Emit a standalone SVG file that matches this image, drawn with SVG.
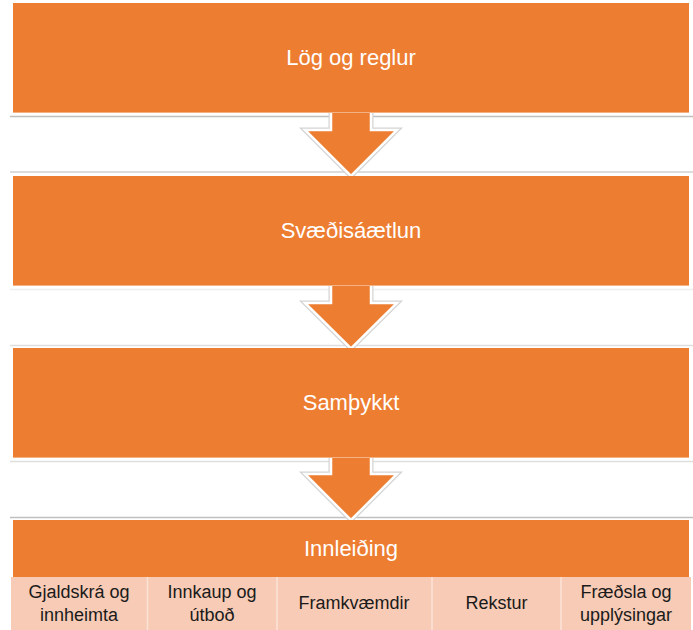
<svg xmlns="http://www.w3.org/2000/svg" width="693" height="630" viewBox="0 0 693 630">
<style>
.bar{fill:#ED7D31}
.edge{stroke:#F4B183;stroke-width:1}
.sep{stroke-width:1.5;fill:none}
.arr-o{fill:none;stroke:#D4D4D4;stroke-width:5;stroke-linejoin:miter}
.arr-w{fill:#ED7D31;stroke:#FFFFFF;stroke-width:2.5;stroke-linejoin:miter}
.main{font-family:"Liberation Sans",Arial,sans-serif;font-size:22px;fill:#FFFFFF;text-anchor:middle}
.cell{fill:#F7CBB5}
.div{stroke:#FBE3D7;stroke-width:1.5}
.sub{font-family:"Liberation Sans",Arial,sans-serif;font-size:18px;fill:#1A1A1A;text-anchor:middle}
</style>
<rect width="693" height="630" fill="#FFFFFF"/>
<g id="connectors">
<line class="sep" x1="10" y1="116.5" x2="693" y2="116.5" stroke="#BFBFBF"/>
<line class="sep" x1="10" y1="172" x2="693" y2="172" stroke="#D0D0D0"/>
<line class="sep" x1="10" y1="289.5" x2="693" y2="289.5" stroke="#EEEEEE"/>
<line class="sep" x1="10" y1="345.5" x2="693" y2="345.5" stroke="#DEDEDE"/>
<line class="sep" x1="10" y1="461.5" x2="693" y2="461.5" stroke="#DEDEDE"/>
<line class="sep" x1="10" y1="517.5" x2="693" y2="517.5" stroke="#C0C0C0"/>
<g id="arrow1">
<path class="arr-o" d="M331 110 V130 H305 L351 176 L397 130 H371 V110"/>
<path class="arr-w" d="M331 110 V130 H305 L351 176 L397 130 H371 V110 Z"/>
</g>
<g id="arrow2">
<path class="arr-o" d="M331 283 V303 H305 L351 348.5 L397 303 H371 V283"/>
<path class="arr-w" d="M331 283 V303 H305 L351 348.5 L397 303 H371 V283 Z"/>
</g>
<g id="arrow3">
<path class="arr-o" d="M331 455 V474 H305 L351 520 L397 474 H371 V455"/>
<path class="arr-w" d="M331 455 V474 H305 L351 520 L397 474 H371 V455 Z"/>
</g>
</g>
<g id="node-log">
<rect class="bar" x="13" y="3" width="676" height="110"/>
<line class="edge" x1="13" y1="112.5" x2="689" y2="112.5"/>
<text class="main" x="351" y="65">Lög og reglur</text>
</g>
<g id="node-svaedisaaetlun">
<rect class="bar" x="13" y="176" width="676" height="110"/>
<line class="edge" x1="13" y1="285.5" x2="689" y2="285.5"/>
<text class="main" x="351" y="238">Svæðisáætlun</text>
</g>
<g id="node-samthykkt">
<rect class="bar" x="13" y="348" width="676" height="110"/>
<line class="edge" x1="13" y1="457.5" x2="689" y2="457.5"/>
<text class="main" x="351" y="410">Samþykkt</text>
</g>
<g id="node-innleiding">
<rect class="bar" x="13" y="520" width="676" height="57"/>
<text class="main" x="351" y="556">Innleiðing</text>
</g>
<g id="node-cells">
<rect class="cell" x="11" y="577" width="680" height="53"/>
<line class="div" x1="147.5" y1="577" x2="147.5" y2="630"/>
<line class="div" x1="277" y1="577" x2="277" y2="630"/>
<line class="div" x1="432" y1="577" x2="432" y2="630"/>
<line class="div" x1="561" y1="577" x2="561" y2="630"/>
<text class="sub" x="79" y="598">Gjaldskrá og</text>
<text class="sub" x="79" y="621">innheimta</text>
<text class="sub" x="212" y="598">Innkaup og</text>
<text class="sub" x="212" y="621">útboð</text>
<text class="sub" x="354" y="609">Framkvæmdir</text>
<text class="sub" x="496.5" y="609">Rekstur</text>
<text class="sub" x="626" y="598">Fræðsla og</text>
<text class="sub" x="626" y="621">upplýsingar</text>
</g>
</svg>
